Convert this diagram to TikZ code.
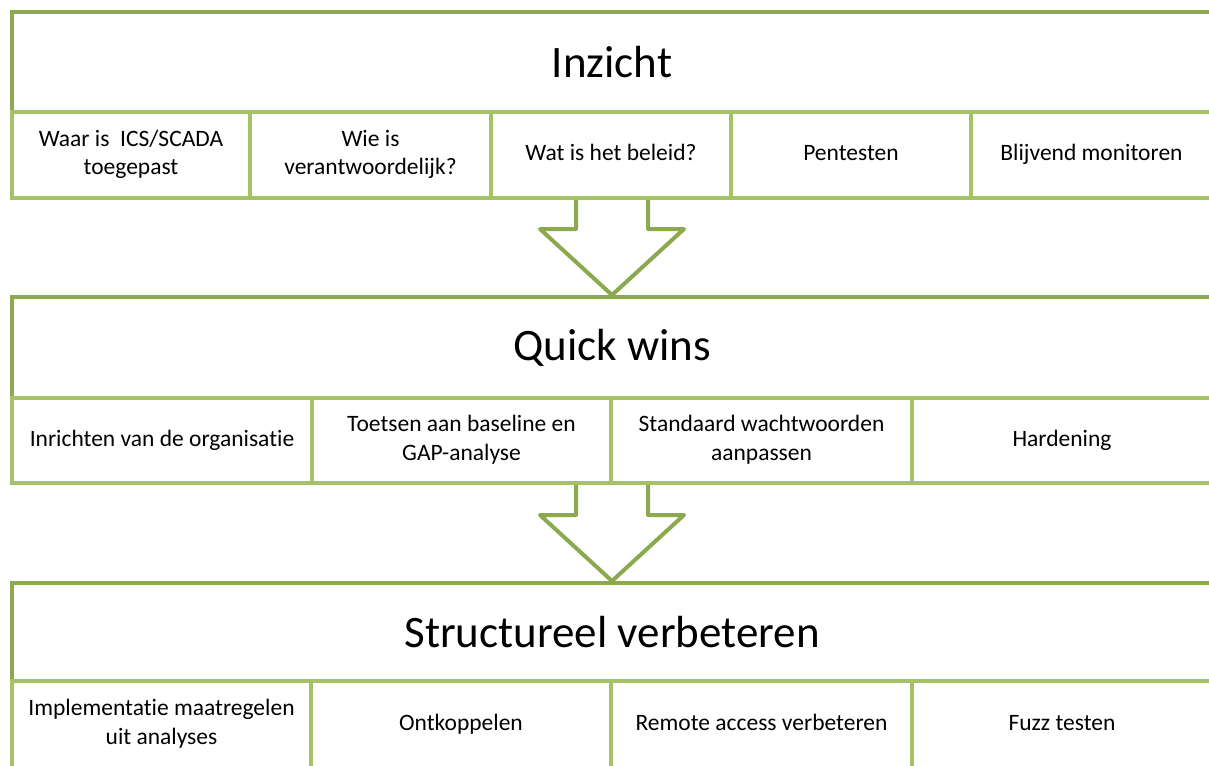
\documentclass[tikz,border=0pt]{standalone}
\usepackage{fontspec}
\setmainfont[Ligatures=NoCommon]{Carlito}
\usetikzlibrary{calc}
\definecolor{darkgreen}{HTML}{8CA94F}
\definecolor{lightgreen}{HTML}{A5C366}
\tikzset{
  hdr/.style={draw=darkgreen, line width=4pt, fill=white, minimum width=1200pt,
    font=\fontsize{45}{54}\selectfont, inner sep=0pt},
  subbox/.style={draw=lightgreen, line width=4pt, fill=white, align=center,
    font=\fontsize{23.5}{28.5}\selectfont, inner sep=0pt},
  bigarrow/.style={draw=darkgreen, line width=4pt, line join=round, fill=white}
}
\begin{document}
\begin{tikzpicture}[x=1pt,y=-1pt]
\clip (0,0) rectangle (1209,765);
\fill[white] (0,0) rectangle (1209,765);
% headers
\node[hdr, minimum height=100pt] (h1) at (612,62) {Inzicht};
\node[hdr, minimum height=101pt] (h2) at (612,347.5) {Quick wins};
\node[hdr, minimum height=98pt] (h3) at (612,632) {Structureel verbeteren};
% arrows
\fill[white] ($(h1.south)+(-36,136)$) -- ($(h1.south)+(-36,115)$) -- ($(h1.south)+(-72,115)$) -- (h2.north) -- ($(h1.south)+(72,115)$) -- ($(h1.south)+(36,115)$) -- ($(h1.south)+(36,136)$) -- cycle;
\draw[bigarrow] ($(h1.south)+(-36,86)$) -- ($(h1.south)+(-36,115)$) -- ($(h1.south)+(-72,115)$) -- (h2.north) -- ($(h1.south)+(72,115)$) -- ($(h1.south)+(36,115)$) -- ($(h1.south)+(36,86)$);
\fill[white] ($(h2.south)+(-36,100)$) -- ($(h2.south)+(-36,115)$) -- ($(h2.south)+(-72,115)$) -- (h3.north) -- ($(h2.south)+(72,115)$) -- ($(h2.south)+(36,115)$) -- ($(h2.south)+(36,100)$) -- cycle;
\draw[bigarrow] ($(h2.south)+(-36,85)$) -- ($(h2.south)+(-36,115)$) -- ($(h2.south)+(-72,115)$) -- (h3.north) -- ($(h2.south)+(72,115)$) -- ($(h2.south)+(36,115)$) -- ($(h2.south)+(36,85)$);
% row 1
\node[subbox, minimum width=238pt, minimum height=86pt] (a1) at (131,155) {\strut Waar is\ \ ICS/SCADA\\toegepast\strut};
\node[subbox, minimum width=241pt, minimum height=86pt] (a2) at (370.5,155) {\strut Wie is\\verantwoordelijk?\strut};
\node[subbox, minimum width=240pt, minimum height=86pt] (a3) at (611,155) {\strut Wat is het beleid?};
\node[subbox, minimum width=240pt, minimum height=86pt] (a4) at (851,155) {\strut Pentesten};
\node[subbox, minimum width=241pt, minimum height=86pt] (a5) at (1091.5,155) {\strut Blijvend monitoren};
% row 2
\node[subbox, minimum width=300pt, minimum height=85pt] (b1) at (162,440.5) {\strut Inrichten van de organisatie};
\node[subbox, minimum width=299pt, minimum height=85pt] (b2) at (461.5,440.5) {\strut Toetsen aan baseline en\\GAP-analyse\strut};
\node[subbox, minimum width=301pt, minimum height=85pt] (b3) at (761.5,440.5) {\strut Standaard wachtwoorden\\aanpassen\strut};
\node[subbox, minimum width=300pt, minimum height=85pt] (b4) at (1062,440.5) {\strut Hardening};
% row 3
\node[subbox, minimum width=299pt, minimum height=87pt] (c1) at (161.5,724.5) {\strut Implementatie maatregelen\\uit analyses\strut};
\node[subbox, minimum width=300pt, minimum height=87pt] (c2) at (461,724.5) {\strut Ontkoppelen};
\node[subbox, minimum width=301pt, minimum height=87pt] (c3) at (761.5,724.5) {\strut Remote access verbeteren};
\node[subbox, minimum width=300pt, minimum height=87pt] (c4) at (1062,724.5) {\strut Fuzz testen};
\end{tikzpicture}
\end{document}
